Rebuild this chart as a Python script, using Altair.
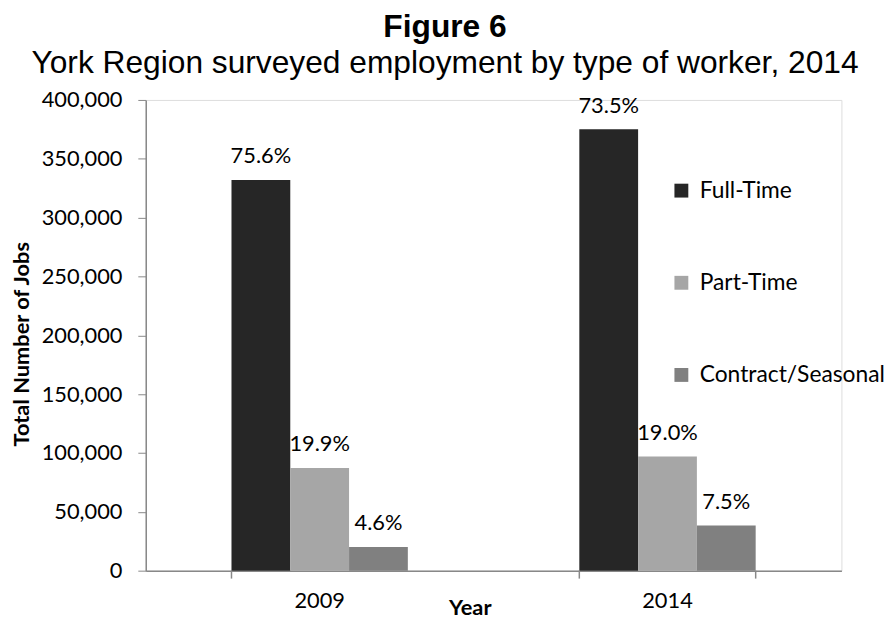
import altair as alt
import pandas as pd

years = ["2009", "2014"]
types = ["Full-Time", "Part-Time", "Contract/Seasonal"]
jobs_2009 = [332000, 87300, 20200]
jobs_2014 = [375000, 97000, 38300]
pct_2009 = ["75.6%", "19.9%", "4.6%"]
pct_2014 = ["73.5%", "19.0%", "7.5%"]
colors = ["#262626", "#a6a6a6", "#808080"]
y_ticks = [0, 50000, 100000, 150000, 200000, 250000, 300000, 350000, 400000]

rows = []
for yr, vals, pcts in [(years[0], jobs_2009, pct_2009), (years[1], jobs_2014, pct_2014)]:
    for t, v, p in zip(types, vals, pcts):
        rows.append({"year": yr, "type": t, "jobs": v, "pct": p})
df = pd.DataFrame(rows)

FONT = "Lato"
FS = 22

x_enc = alt.X(
    "year:N",
    sort=years,
    scale=alt.Scale(paddingInner=0.493, paddingOuter=0.2465),
    axis=alt.Axis(
        title="Year", titleFont=FONT, titleFontSize=22, titleFontWeight="bold",
        titleColor="black", titleX=327, titleY=44, titleBaseline="alphabetic",
        labelFont=FONT, labelFontSize=FS, labelColor="black", labelPadding=20,
        ticks=False, domainColor="#888888", domainWidth=1.5, labelAngle=0,
    ),
)
y_enc = alt.Y(
    "jobs:Q",
    scale=alt.Scale(domain=[0, 400000], nice=False),
    axis=alt.Axis(
        values=y_ticks, format=",.0f", grid=False,
        title="Total Number of Jobs", titleFont=FONT, titleFontSize=22,
        titleFontWeight="bold", titleColor="black",
        titleX=-125, titleY=246, titleAngle=-90, titleBaseline="middle", titleAlign="center",
        labelFont=FONT, labelFontSize=FS, labelColor="black", labelPadding=16,
        tickSize=8, tickColor="#888888", domainColor="#888888", domainWidth=1.5,
    ),
)

base = alt.Chart(df)

bars = base.mark_bar().encode(
    x=x_enc,
    xOffset=alt.XOffset("type:N", sort=types, scale=alt.Scale(paddingInner=0, paddingOuter=0)),
    y=y_enc,
    color=alt.Color(
        "type:N",
        sort=types,
        scale=alt.Scale(domain=types, range=colors),
        legend=alt.Legend(
            title=None, orient="none", legendX=529, legendY=80,
            direction="vertical", symbolType="square", symbolSize=196,
            symbolStrokeWidth=0, labelFont=FONT, labelFontSize=23,
            labelColor="black", rowPadding=69, labelOffset=7, padding=0,
            labelLimit=0,
        ),
    ),
)

labels = base.mark_text(baseline="alphabetic", dy=-17, font=FONT, fontSize=FS, color="black").encode(
    x=alt.X("year:N", sort=years),
    xOffset=alt.XOffset("type:N", sort=types),
    y=alt.Y("jobs:Q"),
    text="pct:N",
)

tick_df = pd.DataFrame({"year": years})
ticks_start = alt.Chart(tick_df).mark_rule(color="#888888", strokeWidth=1.5).encode(
    x=alt.X("year:N", sort=years, bandPosition=0),
    y=alt.value(475), y2=alt.value(483),
)
ticks_end = alt.Chart(pd.DataFrame({"year": [years[-1]]})).mark_rule(color="#888888", strokeWidth=1.5).encode(
    x=alt.X("year:N", sort=years, bandPosition=1),
    y=alt.value(475), y2=alt.value(483),
)

chart = alt.layer(bars, labels, ticks_start, ticks_end).properties(
    width=702,
    height=475,
    autosize=alt.AutoSizeParams(type="none"),
    padding={"left": 139, "top": 90, "right": 46, "bottom": 48},
    title=alt.TitleParams(
        text="Figure 6",
        subtitle="York Region surveyed employment by type of worker, 2014",
        font="Liberation Sans", fontSize=32, fontWeight="bold", color="black",
        subtitleFont="Liberation Sans", subtitleFontSize=32, subtitleColor="black",
        subtitlePadding=5, anchor="middle", frame="group", dx=-49, offset=9,
    ),
).configure_view(stroke=None).configure(background="white")

chart.save("out.html", embed_options={"renderer": "svg", "actions": False})
